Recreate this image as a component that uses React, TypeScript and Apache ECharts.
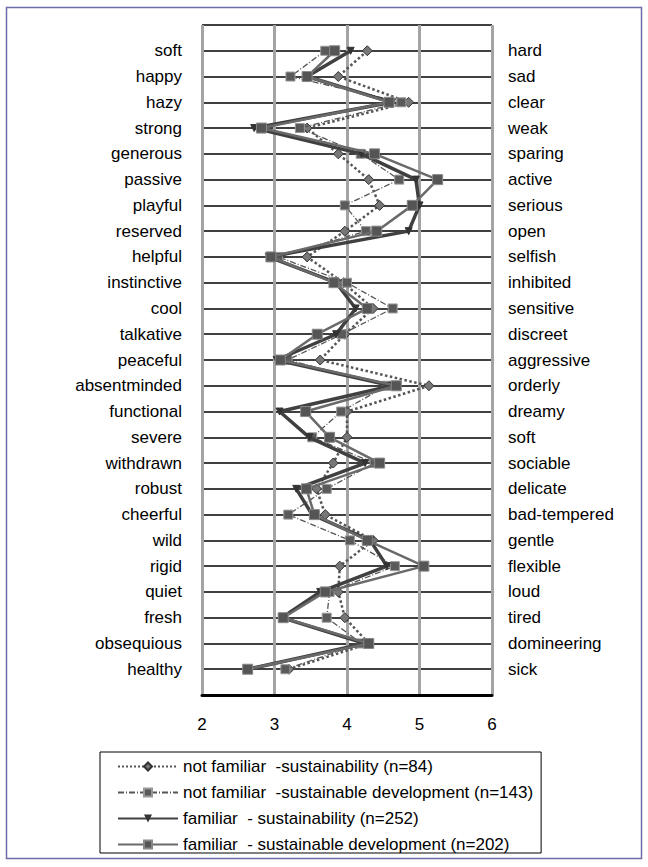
import React, { useEffect, useRef } from "react";
import * as echarts from "echarts";

const leftLabels = ["soft", "happy", "hazy", "strong", "generous", "passive", "playful", "reserved", "helpful", "instinctive", "cool", "talkative", "peaceful", "absentminded", "functional", "severe", "withdrawn", "robust", "cheerful", "wild", "rigid", "quiet", "fresh", "obsequious", "healthy"];
const rightLabels = ["hard", "sad", "clear", "weak", "sparing", "active", "serious", "open", "selfish", "inhibited", "sensitive", "discreet", "aggressive", "orderly", "dreamy", "soft", "sociable", "delicate", "bad-tempered", "gentle", "flexible", "loud", "tired", "domineering", "sick"];
const xTicks = [2, 3, 4, 5, 6];

const seriesNames = [
  "not familiar  -sustainability (n=84)",
  "not familiar  -sustainable development (n=143)",
  "familiar  - sustainability (n=252)",
  "familiar  - sustainable development (n=202)",
];
const notFamiliarS = [4.28, 3.88, 4.85, 3.45, 3.88, 4.30, 4.45, 3.97, 3.45, 3.95, 4.36, 3.97, 3.63, 5.13, 4.0, 4.0, 3.81, 3.58, 3.7, 4.36, 3.90, 3.88, 3.97, 4.3, 3.2];
const notFamiliarSD = [3.70, 3.22, 4.75, 3.35, 4.19, 4.72, 3.97, 4.26, 3.05, 4.0, 4.63, 3.93, 3.18, 4.55, 3.92, 3.52, 4.38, 3.72, 3.19, 4.04, 4.66, 3.76, 3.72, 4.2, 3.15];
const familiarS = [4.05, 3.45, 4.62, 2.72, 4.2, 4.95, 5.0, 4.85, 2.92, 3.85, 4.12, 3.85, 3.03, 4.62, 3.07, 3.48, 4.25, 3.30, 3.52, 4.32, 4.55, 3.63, 3.10, 4.25, 2.63];
const familiarSD = [3.83, 3.45, 4.58, 2.82, 4.38, 5.25, 4.9, 4.41, 2.95, 3.82, 4.28, 3.59, 3.08, 4.68, 3.43, 3.76, 4.45, 3.44, 3.55, 4.28, 5.06, 3.70, 3.12, 4.3, 2.63];

const FONT = "Liberation Sans, Arial, sans-serif";
const FS = 17;

export default function App() {
  const ref = useRef<HTMLDivElement>(null);
  useEffect(() => {
    if (!ref.current) return;
    const chart = echarts.init(ref.current, null, { renderer: "svg" });
    const pts = (arr: number[]) => arr.map((v, i) => [v, i + 1]);
    const yBase = {
      type: "value",
      min: 0,
      max: leftLabels.length + 1,
      interval: 1,
      inverse: true,
      axisTick: { show: false },
      axisLine: { show: false },
    };
    chart.setOption({
      animation: false,
      textStyle: { fontFamily: FONT },
      grid: { left: 202, right: 156, top: 25, bottom: 172, containLabel: false },
      xAxis: {
        type: "value",
        min: xTicks[0],
        max: xTicks[xTicks.length - 1],
        interval: 1,
        position: "bottom",
        axisLine: { show: true, onZero: false, lineStyle: { color: "#000", width: 3 } },
        axisTick: { show: false },
        axisLabel: { fontSize: FS, color: "#000", margin: 21, fontFamily: FONT },
        splitLine: { show: true, lineStyle: { color: "#a4a4a4", width: 3 } },
      },
      yAxis: [
        {
          ...yBase,
          position: "left",
          axisLabel: {
            fontSize: FS,
            color: "#000",
            margin: 20,
            fontFamily: FONT,
            formatter: (v: number) => leftLabels[v - 1] || "",
          },
          splitLine: { show: true, lineStyle: { color: "#000", width: 1.6 } },
        },
        {
          ...yBase,
          position: "right",
          axisLabel: {
            fontSize: FS,
            color: "#000",
            margin: 16,
            fontFamily: FONT,
            formatter: (v: number) => rightLabels[v - 1] || "",
          },
          splitLine: { show: false },
        },
      ],
      legend: {
        orient: "vertical",
        left: 100,
        top: 752,
        itemWidth: 60,
        itemHeight: 10,
        itemGap: 9,
        padding: [6, 8, 0, 17],
        borderColor: "#000",
        borderWidth: 1,
        textStyle: { fontSize: FS, color: "#000", fontFamily: FONT },
        data: seriesNames,
      },
      series: [
        {
          name: seriesNames[0],
          type: "line",
          data: pts(notFamiliarS),
          symbol: "diamond",
          symbolSize: 10,
          lineStyle: { type: "dotted", width: 2.5, color: "#555" },
          itemStyle: { color: "#777", borderColor: "#333", borderWidth: 1 },
          z: 3,
        },
        {
          name: seriesNames[1],
          type: "line",
          data: pts(notFamiliarSD),
          symbol: "rect",
          symbolSize: 9,
          lineStyle: { type: [6, 2, 1, 2], width: 1.3, color: "#555" },
          itemStyle: { color: "#5a5a5a", borderColor: "#999", borderWidth: 1 },
          z: 4,
        },
        {
          name: seriesNames[2],
          type: "line",
          data: pts(familiarS),
          symbol: "triangle",
          symbolRotate: 180,
          symbolSize: 7,
          lineStyle: { type: "solid", width: 3.5, color: "#404040" },
          itemStyle: { color: "#333", borderColor: "#333" },
          z: 5,
        },
        {
          name: seriesNames[3],
          type: "line",
          data: pts(familiarSD),
          symbol: "rect",
          symbolSize: 10,
          lineStyle: { type: "solid", width: 2.5, color: "#6a6a6a" },
          itemStyle: { color: "#555", borderColor: "#888", borderWidth: 1 },
          z: 6,
        },
      ],
      graphic: [
        {
          type: "rect",
          shape: { x: 6.5, y: 7.5, width: 635, height: 851 },
          style: { fill: "none", stroke: "#6c6ca8", lineWidth: 1.5 },
          silent: true,
        },
      ],
    });
    return () => chart.dispose();
  }, []);
  return (
    <div
      ref={ref}
      style={{ position: "absolute", left: 0, top: 0, width: 648, height: 867, background: "#fff" }}
    />
  );
}
